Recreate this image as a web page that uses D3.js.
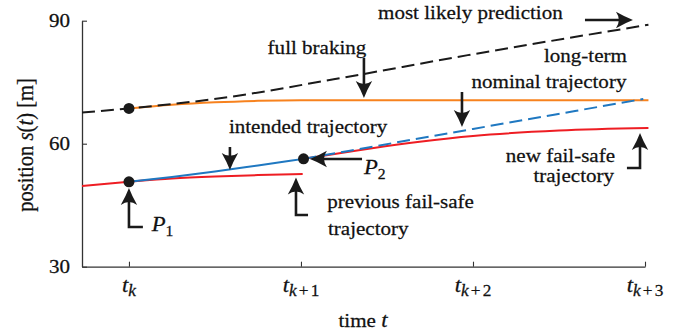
<!DOCTYPE html>
<html>
<head>
<meta charset="utf-8">
<script src="https://cdn.jsdelivr.net/npm/d3@7"></script>
<style>
  body { margin: 0; background: #fff; }
  text { font-family: "Liberation Serif", serif; fill: #111; stroke: #111; stroke-width: 0.25px; }
</style>
</head>
<body>
<div id="chart"></div>
<script>
  // tick values and labels
  var tTicks = [0, 1, 2, 3];
  var tSubs = [["k", ""], ["k", "+1"], ["k", "+2"], ["k", "+3"]];
  var sTicks = [30, 60, 90];

  // curves (t in steps, s in m)
  var predT = [-0.273, 0, 0.55, 1.19, 1.97, 3.02];
  var predS = [67.6, 68.6, 71.2, 75.7, 81.6, 89.0];
  var brakeT = [0, 0.25, 0.5, 0.75, 1.0, 3.02];
  var brakeS = [68.6, 69.5, 70.1, 70.45, 70.6, 70.6];
  var prevT = [-0.273, 0, 0.25, 0.5, 0.75, 1.01];
  var prevS = [49.7, 50.7, 51.5, 52.0, 52.35, 52.6];
  var intT = [0, 0.25, 0.5, 0.75, 1.015];
  var intS = [50.7, 51.85, 53.2, 54.7, 56.3];
  var nomT = [1.015, 2.0, 2.99];
  var nomS = [56.3, 63.6, 70.9];
  var newT = [1.015, 1.69, 2.0, 2.5, 3.02];
  var newS = [56.3, 60.5, 61.9, 63.2, 63.8];
  var dotT = [0, 0, 1.015];
  var dotS = [68.6, 50.7, 56.3];

  var width = 694, height = 333;

  var svg = d3.select("#chart").append("svg")
    .attr("width", width)
    .attr("height", height);

  var x = d3.scaleLinear().domain([-0.273, 3]).range([82, 645]);
  var y = d3.scaleLinear().domain([30, 90]).range([266.7, 20.7]);

  var stretch = 1.08; // the picture is a bit wider than the font
  var fs = 19.5, ms = 21;

  // axes
  svg.append("g")
    .attr("transform", "translate(0," + y(30) + ")")
    .call(d3.axisBottom(x).tickValues(tTicks).tickSizeInner(-5).tickSizeOuter(0).tickFormat(""));
  svg.append("g")
    .attr("transform", "translate(" + x(-0.273) + ",0)")
    .call(d3.axisLeft(y).tickValues(sTicks).tickSizeInner(-5).tickSizeOuter(0).tickFormat(""));
  svg.selectAll(".domain").attr("stroke", "#333").attr("stroke-width", 1.3);
  svg.selectAll(".tick line").attr("stroke", "#333").attr("stroke-width", 1.1);

  // text helper: parts = [string, italic, sub, dx]
  function label(parts, px, py, anchor, size, rot) {
    size = size || fs;
    var tr = "translate(" + px + "," + py + ") scale(" + stretch + ",1)";
    if (rot) tr += " rotate(-90)";
    var t = svg.append("text")
      .attr("transform", tr)
      .attr("text-anchor", anchor || "start")
      .style("font-size", size + "px");
    var sub = false;
    parts.forEach(function(p) {
      var sp = t.append("tspan").text(p[0]);
      if (p[1]) sp.style("font-style", "italic").style("font-size", ms + "px");
      if (p[2]) {
        sp.style("font-size", (typeof p[2] === "number" ? p[2] : 14.5) + "px");
        if (!sub) sp.attr("dy", 4.5);
      } else if (sub) {
        sp.attr("dy", -4.5);
      }
      if (p[3]) sp.attr("dx", p[3]);
      sub = !!p[2];
    });
    return t;
  }

  // tick labels
  sTicks.forEach(function(v) {
    label([[String(v)]], 70, y(v) + 6.5, "end");
  });
  tTicks.forEach(function(v, i) {
    var parts = [["t", true], [tSubs[i][0], true, 16]];
    if (tSubs[i][1]) {
      parts.push(["+", false, 16, 2]);
      parts.push([tSubs[i][1].slice(1), false, 16, 2]);
    }
    label(parts, x(v), 291.5, "middle");
  });

  // axis titles
  label([["time "], ["t", true]], 363, 326.5, "middle");
  label([["position "], ["s", true], ["("], ["t", true], [")  [m]"]], 33, 145, "middle", 20.5, true);

  // lines
  var line = d3.line()
    .x(function(d) { return x(d[0]); })
    .y(function(d) { return y(d[1]); })
    .curve(d3.curveMonotoneX);

  function series(ts, ss, color, dash) {
    var pts = ts.map(function(t, i) { return [t, ss[i]]; });
    svg.append("path")
      .datum(pts)
      .attr("d", line)
      .attr("fill", "none")
      .attr("stroke", color)
      .attr("stroke-width", 2)
      .attr("stroke-dasharray", dash || null);
  }

  series(prevT, prevS, "#ee1d23");
  series(newT, newS, "#ee1d23");
  series(brakeT, brakeS, "#f7821e");
  series(intT, intS, "#1f78c1");
  series(nomT, nomS, "#1f78c1", "13,6");
  series(predT, predS, "#1a1a1a", "13,6");

  svg.selectAll(".dot")
    .data(dotT)
    .enter().append("circle")
    .attr("class", "dot")
    .attr("cx", function(d) { return x(d); })
    .attr("cy", function(d, i) { return y(dotS[i]); })
    .attr("r", 5.5)
    .attr("fill", "#1a1a1a");

  // annotation arrows, in data units, last point is the tip
  var arrows = [
    [[2.651, 90.17], [2.930, 90.17]],
    [[1.366, 80.90], [1.366, 71.15]],
    [[1.936, 72.61], [1.936, 64.07]],
    [[0.587, 59.20], [0.587, 53.59]],
    [[1.355, 56.27], [1.052, 56.27]],
    [[1.041, 42.61], [0.971, 42.61], [0.971, 51.76]],
    [[0.081, 39.68], [0, 39.68], [0, 49.20]],
    [[2.895, 54.07], [2.971, 54.07], [2.971, 62.61]]
  ];

  arrows.forEach(function(a) {
    var p = a.map(function(d) { return [x(d[0]), y(d[1])]; });
    var tip = p[p.length - 1], prev = p[p.length - 2];
    var dx = tip[0] - prev[0], dy = tip[1] - prev[1];
    var len = Math.sqrt(dx * dx + dy * dy);
    dx /= len; dy /= len;
    var L = 17, W = 8.2;
    var stem = p.slice(0, -1).concat([[tip[0] - dx * L * 0.6, tip[1] - dy * L * 0.6]]);
    svg.append("path")
      .attr("d", d3.line()(stem))
      .attr("fill", "none")
      .attr("stroke", "#1a1a1a")
      .attr("stroke-width", 2.6);
    var bx = tip[0] - dx * L, by = tip[1] - dy * L;
    var c1 = [bx - dy * W, by + dx * W], c2 = [bx + dy * W, by - dx * W];
    var q = [tip[0] - dx * L * 0.66, tip[1] - dy * L * 0.66];
    var s1 = [tip[0] - dx * L * 0.45 - dy * W * 0.35, tip[1] - dy * L * 0.45 + dx * W * 0.35];
    var s2 = [tip[0] - dx * L * 0.45 + dy * W * 0.35, tip[1] - dy * L * 0.45 - dx * W * 0.35];
    svg.append("path")
      .attr("d", "M" + tip + "Q" + s1 + " " + c1 + "Q" + q + " " + c2 + "Q" + s2 + " " + tip + "Z")
      .attr("fill", "#1a1a1a");
  });

  // annotation texts, in data units
  label([["most likely prediction"]], x(1.448), y(90.41), "start");
  label([["full braking"]], x(0.806), y(82.0), "start");
  label([["long-term"]], x(2.895), y(79.93), "end");
  label([["nominal trajectory"]], x(2.892), y(73.59), "end");
  label([["intended trajectory"]], x(0.581), y(62.54), "start");
  label([["new fail-safe"]], x(2.826), y(55.54), "end");
  label([["trajectory"]], x(2.820), y(50.54), "end");
  label([["previous fail-safe"]], x(1.153), y(44.32), "start");
  label([["trajectory"]], x(1.157), y(37.73), "start");
  label([["P", true], ["1", false, true]], x(0.132), y(38.59), "start");
  label([["P", true], ["2", false, true]], x(1.366), y(52.61), "start");
</script>
</body>
</html>
